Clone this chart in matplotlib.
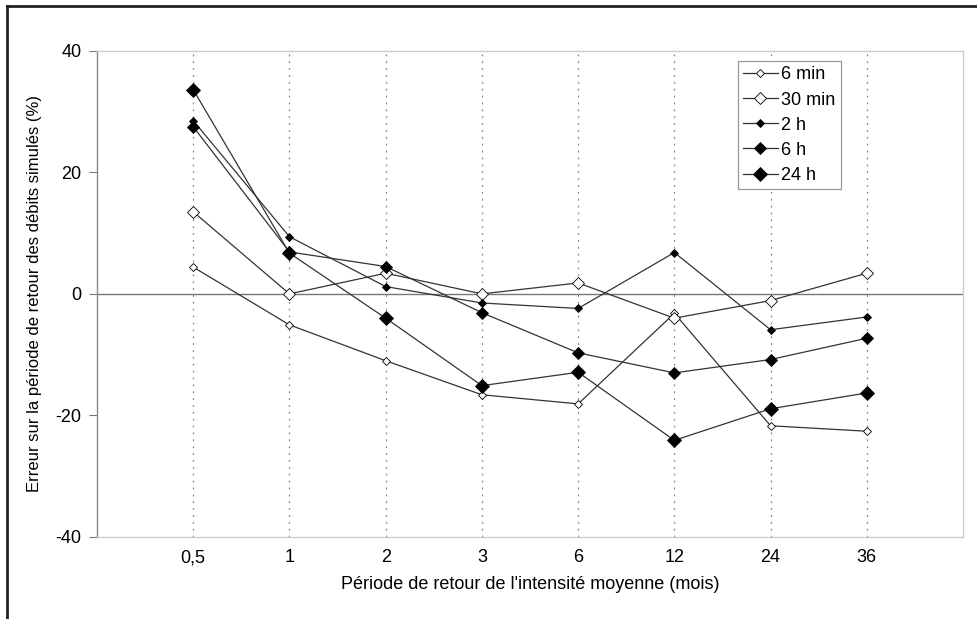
import numpy as np
import matplotlib
matplotlib.use("Agg")
import matplotlib.pyplot as plt
from matplotlib.lines import Line2D

plt.rcParams['font.family'] = ['Liberation Sans', 'DejaVu Sans']
plt.rcParams['axes.unicode_minus'] = False

periodes = ['0,5', '1', '2', '3', '6', '12', '24', '36']
err_6min = [4.4, -5.1, -11.0, -16.6, -18.1, -3.2, -21.7, -22.6]
err_30min = [13.5, 0.0, 3.4, 0.0, 1.8, -4.0, -1.1, 3.4]
err_2h = [28.5, 9.4, 1.2, -1.5, -2.4, 6.8, -5.9, -3.8]
err_6h = [27.5, 6.9, 4.5, -3.1, -9.7, -13.0, -10.8, -7.3]
err_24h = [33.6, 6.7, -4.0, -15.1, -12.9, -24.1, -18.9, -16.3]

series = [
    ('6 min', err_6min, 'white', 4.0),
    ('30 min', err_30min, 'white', 5.8),
    ('2 h', err_2h, 'black', 3.8),
    ('6 h', err_6h, 'black', 5.8),
    ('24 h', err_24h, 'black', 7.2),
]

fig = plt.figure(figsize=(9.77, 6.19), dpi=100)
ax = fig.add_axes([0.0993, 0.1325, 0.8864, 0.7855])

x = np.arange(len(periodes))
for i in x:
    ax.axvline(i, color='#888888', lw=0.9, ls=(0, (1.5, 4)), zorder=1)
ax.axhline(0, color='#777777', lw=1.0, zorder=1)

for name, vals, fc, ms in series:
    ax.plot(x, vals, color='#333333', lw=0.9, marker='D', ms=ms,
            mfc=fc, mec='black', mew=0.6, label=name, zorder=3)

ax.set_xlim(-1, 8)
ax.set_ylim(-40, 40)
ax.set_yticks([-40, -20, 0, 20, 40])
ax.set_xticks(x)
ax.set_xticklabels(periodes)
ax.tick_params(axis='y', direction='out', length=6, width=0.8, color='#777777', labelsize=13, pad=5)
ax.tick_params(axis='x', length=0, labelsize=13, pad=9)

for side in ['top', 'right', 'bottom']:
    ax.spines[side].set_color('#cccccc')
    ax.spines[side].set_linewidth(1.0)
ax.spines['left'].set_color('#888888')
ax.spines['left'].set_linewidth(1.0)

ax.set_ylabel("Erreur sur la période de retour des débits simulés (%)", fontsize=12, labelpad=10)
ax.set_xlabel("Période de retour de l'intensité moyenne (mois)", fontsize=13, labelpad=7)

leg = ax.legend(loc='upper left', bbox_to_anchor=(0.740, 0.979), fontsize=13,
                fancybox=False, framealpha=1, edgecolor='#999999',
                handlelength=1.9, handletextpad=0.2, labelspacing=0.45,
                borderpad=0.3, borderaxespad=0)
leg.get_frame().set_linewidth(0.9)

# bordure de la zone de graphique
fig.add_artist(Line2D([0.0072, 0.0072], [0, 0.991], transform=fig.transFigure, color='#222222', lw=2))
fig.add_artist(Line2D([0.0072, 1], [0.991, 0.991], transform=fig.transFigure, color='#222222', lw=2))

fig.savefig('out.png', dpi=100)
